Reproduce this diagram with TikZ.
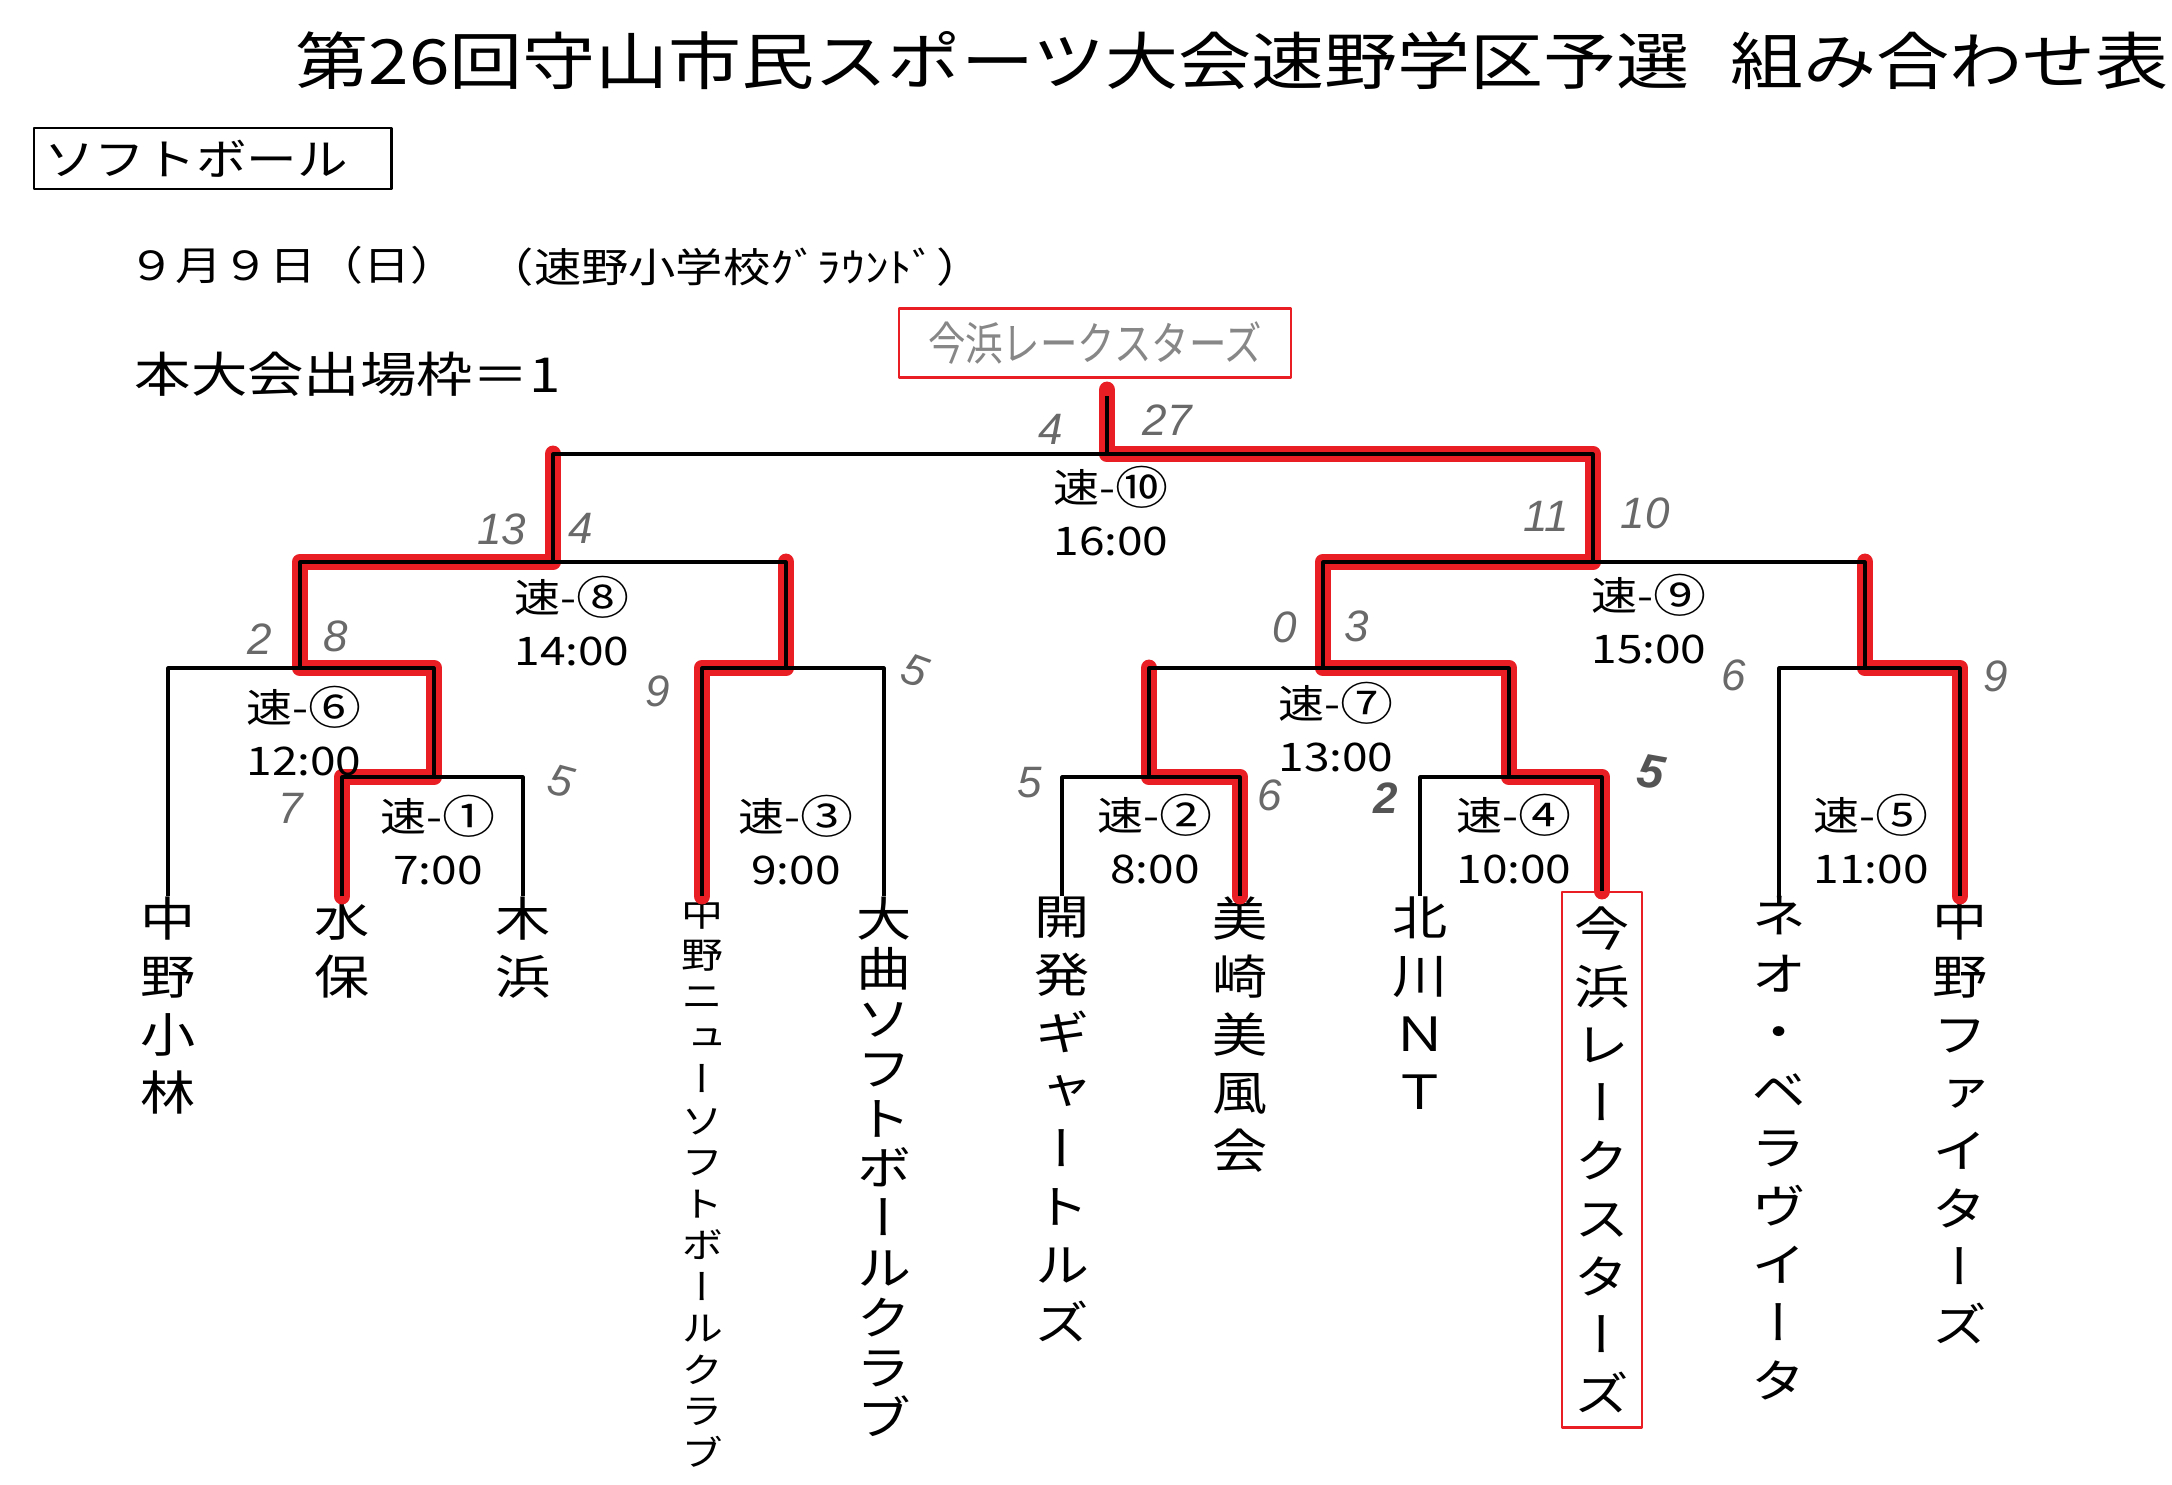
\documentclass[tikz,border=0pt]{standalone}
\usepackage{fontspec}
\setmainfont{Noto Sans CJK JP}[FakeStretch=1.17]
\newfontfamily\tatefont{Noto Sans CJK JP}[FakeStretch=1.17,RawFeature=+vert]
\newfontfamily\handfont{Liberation Sans}
\definecolor{marker}{RGB}{232,30,36}
\definecolor{pencil}{RGB}{105,105,105}
\tikzset{
  bracket/.style={black, line width=0.9pt},
  redpath/.style={marker, line width=4.8pt, line join=round, line cap=round},
  team/.style={anchor=north, align=center, inner sep=0pt,
    font=\tatefont\fontsize{13.4pt}{16.5pt}\selectfont},
  game/.style={align=center, inner sep=0pt, font=\fontsize{11.2pt}{15.2pt}\selectfont},
  score/.style={inner sep=0pt, text=pencil, font=\handfont\itshape\fontsize{12.5pt}{12.5pt}\selectfont},
}

\begin{document}
\begin{tikzpicture}[x=0.01cm, y=-0.01cm, line join=round]
    \fill[white] (0,0) rectangle (2172,1484);
    \useasboundingbox (0,0) rectangle (2172,1484);

    % heading
    \node[anchor=west, inner sep=0pt, font=\fontsize{17.75pt}{20pt}\selectfont] (title) at (295,61)
      {第26回守山市民スポーツ大会速野学区予選\hspace{0.65em}組み合わせ表};
    \node[draw, line width=0.7pt, anchor=north west, minimum width=3.57cm, minimum height=0.57cm,
      inner xsep=0.1cm, text width=3.37cm, align=left, font=\fontsize{12.3pt}{14pt}\selectfont]
      (sport) at (33,127) {ソフトボール};
    \node[anchor=west, inner sep=0pt, font=\fontsize{11.4pt}{13pt}\selectfont] (date) at (128,265) {９月９日（日）};
    \node[anchor=west, inner sep=0pt, font=\fontsize{11.5pt}{13pt}\selectfont] (place) at (486,267) {（速野小学校ｸﾞﾗｳﾝﾄﾞ）};
    \node[anchor=west, inner sep=0pt, font=\fontsize{13.7pt}{16pt}\selectfont] (quota) at (134,374) {本大会出場枠＝1};

    % winner
    \node[draw=marker, line width=0.6pt, minimum width=3.92cm, minimum height=0.69cm, inner sep=0pt,
      text=pencil!80, font=\fontsize{13pt}{15pt}\selectfont] (champ) at (1095,343)
      {\scalebox{0.7}[1]{今浜レークスターズ}};

    % teams
    \node[team] (t1) at (168,896) {中\\野\\小\\林};
    \node[team] (t2) at (342,896) {水\\保};
    \node[team] (t3) at (523,896) {木\\浜};
    \node[team, font=\tatefont\fontsize{10.2pt}{11.8pt}\selectfont] (t4) at (702,896)
      {中\\野\\ニ\\ュ\\ー\\ソ\\フ\\ト\\ボ\\ー\\ル\\ク\\ラ\\ブ};
    \node[team, font=\tatefont\fontsize{13.4pt}{14.2pt}\selectfont] (t5) at (884,896)
      {大\\曲\\ソ\\フ\\ト\\ボ\\ー\\ル\\ク\\ラ\\ブ};
    \node[team] (t6) at (1062,896) {開\\発\\ギ\\ャ\\ー\\ト\\ル\\ズ};
    \node[team] (t7) at (1240,896) {美\\崎\\美\\風\\会};
    \node[team] (t8) at (1420,896) {北\\川\\Ｎ\\Ｔ};
    \node[team, draw=marker, line width=0.6pt, inner xsep=0.125cm, inner ysep=0.15cm] (t9) at (1602,891)
      {今\\浜\\レ\\ー\\ク\\ス\\タ\\ー\\ズ};
    \node[team] (t10) at (1779,896) {ネ\\オ\\・\\ベ\\ラ\\ヴ\\イ\\ー\\タ};
    \node[team] (t11) at (1960,896) {中\\野\\フ\\ァ\\イ\\タ\\ー\\ズ};

    % junctions
    \coordinate (j1) at (434,777);
    \coordinate (j2) at (1149,777);
    \coordinate (j4) at (1509,777);
    \coordinate (j6) at (300,668);
    \coordinate (j3) at (786,668);
    \coordinate (j7) at (1323,668);
    \coordinate (j5) at (1865,668);
    \coordinate (j8) at (553,562);
    \coordinate (j9) at (1593,562);
    \coordinate (j10) at (1107,454);
    \coordinate (top) at (1107,396);

    % results in red
    \draw[redpath] (t2.north) |- (j1) |- (j6) |- (j8) -- (j8 |- j10);
    \draw[redpath] (t4.north) |- (j3) -- (j3 |- j8);
    \draw[redpath] (t7.north) |- (j2) -- (j2 |- j7);
    \draw[redpath] (t11.north) |- (j5) -- (j5 |- j9);
    \draw[redpath] (t9.north) |- (j4) |- (j7) |- (j9) |- (j10) -- ([yshift=0.06cm]top);

    % bracket
    \draw[bracket] (t2.north) |- (j1) -| (t3.north);
    \draw[bracket] (t6.north) |- (j2) -| (t7.north);
    \draw[bracket] (t8.north) |- (j4) -| (t9.north);
    \draw[bracket] (t1.north) |- (j6) -| (j1);
    \draw[bracket] (t4.north) |- (j3) -| (t5.north);
    \draw[bracket] (j2) |- (j7) -| (j4);
    \draw[bracket] (t10.north) |- (j5) -| (t11.north);
    \draw[bracket] (j6) |- (j8) -| (j3);
    \draw[bracket] (j7) |- (j9) -| (j5);
    \draw[bracket] (j8) |- (j10) -| (j9);
    \draw[bracket] (j10) -- (top);

    % games
    \foreach \id/\num/\xx/\yy/\tm in {g1/①/438/840/7:00, g2/②/1155/839/8:00, g3/③/796/840/9:00,
      g4/④/1514/839/10:00, g5/⑤/1871/839/11:00, g6/⑥/304/731/12:00, g7/⑦/1336/727/13:00,
      g8/⑧/572/621/14:00, g9/⑨/1649/619/15:00, g10/⑩/1111/511/16:00}
      \node[game] (\id) at (\xx,\yy) {速-\raisebox{-0.06em}{\scalebox{1.15}{\num}}\\\tm};

    % scores
    \foreach \id/\xx/\yy/\v in {s10a/1051/429/4, s10b/1167/420/27, s8a/502/529/13, s8b/581/528/4,
      s9a/1546/516/11, s9b/1645/513/10, s6a/260/639/2, s6b/336/636/8, s3a/658/691/9,
      s7a/1285/627/0, s7b/1357/626/3, s5a/1734/675/6, s5b/1996/676/9,
      s1a/291/808/7, s2a/1030/783/5, s2b/1270/795/6}
      \node[score] (\id) at (\xx,\yy) {\v};
    \node[score, rotate=-20] (s3b) at (915,671) {5};
    \node[score, rotate=-15] (s1b) at (561,781) {5};
    \node[score, text=pencil!80!black, font=\handfont\bfseries\itshape\fontsize{12.5pt}{12.5pt}\selectfont] (s4a) at (1386,798) {2};
    \node[score, text=pencil!80!black, font=\handfont\bfseries\itshape\fontsize{13.5pt}{13.5pt}\selectfont, rotate=-10] (s4b) at (1651,772) {5};
\end{tikzpicture}
\end{document}
